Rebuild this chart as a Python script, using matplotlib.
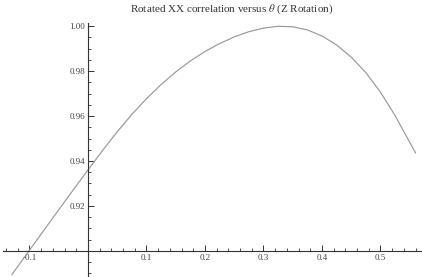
import matplotlib.pyplot as plt
from matplotlib.ticker import FixedLocator

# values
theta = [-0.13, -0.1, -0.075, -0.05, -0.025, 0.0, 0.025, 0.05, 0.075, 0.1,
         0.125, 0.15, 0.175, 0.2, 0.225, 0.25, 0.275, 0.3, 0.325, 0.35,
         0.375, 0.4, 0.425, 0.45, 0.475, 0.5, 0.525, 0.55, 0.56]
corr = [0.8895, 0.9003, 0.9093, 0.9183, 0.9272, 0.9360, 0.9447, 0.9530, 0.9607, 0.9677,
        0.9740, 0.9796, 0.9845, 0.9887, 0.9922, 0.9952, 0.9975, 0.9991, 0.9999, 0.9997,
        0.9983, 0.9956, 0.9916, 0.9862, 0.9793, 0.9706, 0.9602, 0.9483, 0.9436]

x_ticks = [-0.1, 0.1, 0.2, 0.3, 0.4, 0.5]
x_labels = ["-0.1", "0.1", "0.2", "0.3", "0.4", "0.5"]
x_minor = [-0.14, -0.12, -0.08, -0.06, -0.04, -0.02, 0.02, 0.04, 0.06, 0.08,
           0.12, 0.14, 0.16, 0.18, 0.22, 0.24, 0.26, 0.28, 0.32, 0.34, 0.36, 0.38,
           0.42, 0.44, 0.46, 0.48, 0.52, 0.54, 0.56]
y_ticks = [0.92, 0.94, 0.96, 0.98, 1.00]
y_labels = ["0.92", "0.94", "0.96", "0.98", "1.00"]
y_minor = [0.89, 0.895, 0.905, 0.91, 0.915, 0.925, 0.93, 0.935, 0.945, 0.95, 0.955,
           0.965, 0.97, 0.975, 0.985, 0.99, 0.995]

plt.rcParams['font.family'] = ['Liberation Serif', 'DejaVu Serif']
plt.rcParams['mathtext.fontset'] = 'stix'

fig = plt.figure(figsize=(4.22, 2.77), dpi=100)
ax = fig.add_axes([0, 0, 1, 1])
ax.patch.set_alpha(0)

ax.plot(theta, corr, color='#979a94', lw=0.85)

ax.set_xlim(-0.1504, 0.571)
ax.set_ylim(0.8884, 1.0116)

# axes cross at (0, 0.9) like the original
ax.spines['left'].set_position(('data', 0.0))
ax.spines['bottom'].set_position(('data', 0.9))
ax.spines['right'].set_visible(False)
ax.spines['top'].set_visible(False)
ax.spines['left'].set_bounds(0.8884, 1.0015)
ax.spines['bottom'].set_bounds(-0.145, 0.571)
for s in ['left', 'bottom']:
    ax.spines[s].set_color('#333333')
    ax.spines[s].set_linewidth(0.8)

ax.xaxis.set_major_locator(FixedLocator(x_ticks))
ax.set_xticklabels(x_labels)
ax.xaxis.set_minor_locator(FixedLocator(x_minor))
ax.yaxis.set_major_locator(FixedLocator(y_ticks))
ax.set_yticklabels(y_labels)
ax.yaxis.set_minor_locator(FixedLocator(y_minor))

ax.tick_params(axis='both', which='major', direction='in', length=4, width=0.7,
               color='#333333', labelsize=6.5, labelcolor='#444444')
ax.tick_params(axis='both', which='minor', direction='in', length=2, width=0.6,
               color='#333333')
ax.tick_params(axis='x', which='major', pad=2)
ax.tick_params(axis='y', which='major', pad=2)

fig.text(0.55, 0.968, r"Rotated XX correlation versus $\theta$ (Z Rotation)",
         ha='center', va='center', fontsize=8, color='#333333')

fig.savefig('out.png', dpi=100)
